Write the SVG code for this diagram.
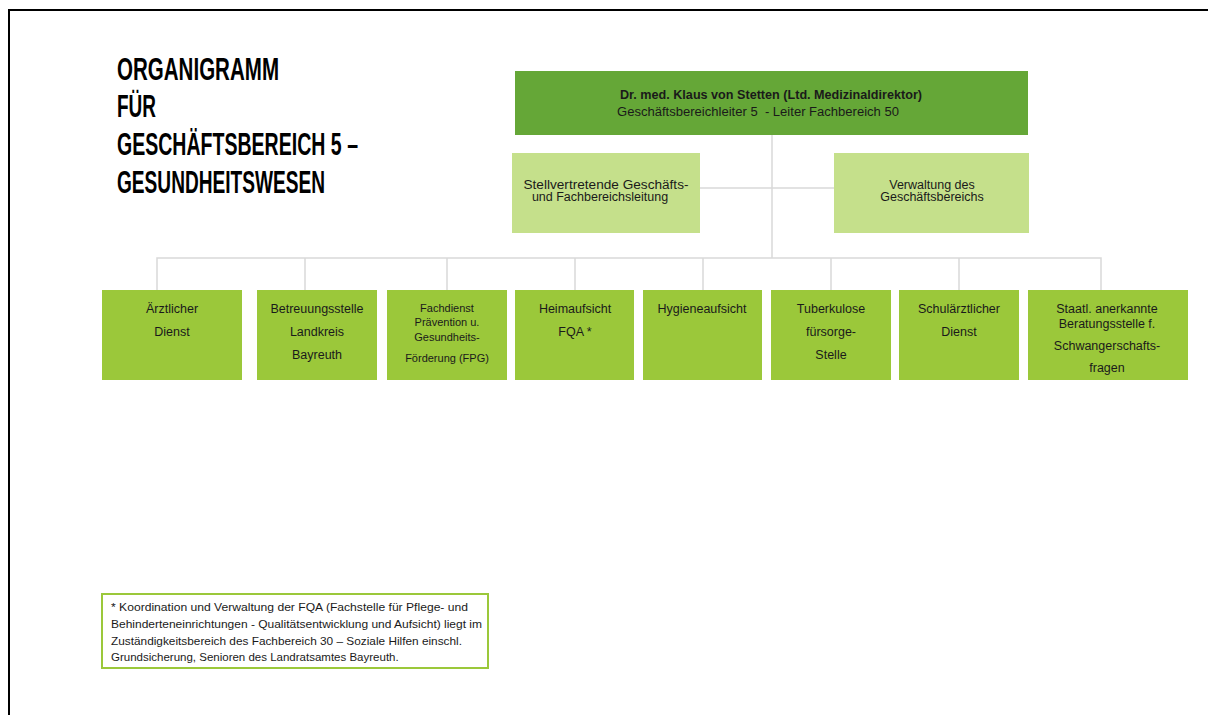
<svg xmlns="http://www.w3.org/2000/svg" width="1208" height="715" viewBox="0 0 1208 715">
<style>
.frame{fill:none;stroke:#000;stroke-width:2}
.title{font-family:"Liberation Sans",Arial,sans-serif;font-size:31px;font-weight:bold;fill:#000}
.lead{fill:#65a737}
.staff{fill:#c5e08b}
.unit{fill:#9bc83a}
.t{font-family:"Liberation Sans",Arial,sans-serif;font-size:12.5px;fill:#1a1a1a;text-anchor:middle}
.s{font-size:11px}
.con{fill:none;stroke:#d9d9d9;stroke-width:1.5}
.note{fill:#fff;stroke:#9bc83a;stroke-width:2}
.nt{font-family:"Liberation Sans",Arial,sans-serif;font-size:11.5px;fill:#1a1a1a}
</style>
<rect width="1208" height="715" fill="#fff"/>
<path class="frame" d="M9,716 V10 H1209"/>
<g id="title">
<text class="title" x="117" y="80" textLength="162" lengthAdjust="spacingAndGlyphs">ORGANIGRAMM</text>
<text class="title" x="117" y="117" textLength="39" lengthAdjust="spacingAndGlyphs">FÜR</text>
<text class="title" x="117" y="155" textLength="241" lengthAdjust="spacingAndGlyphs">GESCHÄFTSBEREICH 5 –</text>
<text class="title" x="117" y="193" textLength="208" lengthAdjust="spacingAndGlyphs">GESUNDHEITSWESEN</text>
</g>
<g id="connectors">
<path class="con" d="M772,135 V258"/>
<path class="con" d="M700,188 H834"/>
<path class="con" d="M157,290 V258 H1101 V290"/>
<path class="con" d="M305,258 V290 M447,258 V290 M575,258 V290 M703,258 V290 M831,258 V290 M959,258 V290"/>
</g>
<g id="leiter">
<rect class="lead" x="515" y="71" width="513" height="64"/>
<text class="t" x="771" y="99" font-weight="bold" font-size="12.5" textLength="302" lengthAdjust="spacingAndGlyphs">Dr. med. Klaus von Stetten (Ltd. Medizinaldirektor)</text>
<text class="t" x="758" y="116" font-size="12.5" textLength="282" lengthAdjust="spacingAndGlyphs" xml:space="preserve">Geschäftsbereichleiter 5  - Leiter Fachbereich 50</text>
</g>
<g id="stellvertretung">
<rect class="staff" x="512" y="153" width="188" height="80"/>
<text class="t" x="606" y="189" font-size="12" textLength="165" lengthAdjust="spacingAndGlyphs">Stellvertretende Geschäfts-</text>
<text class="t" x="600" y="201" font-size="12">und Fachbereichsleitung</text>
</g>
<g id="verwaltung">
<rect class="staff" x="834" y="153" width="195" height="80"/>
<text class="t" x="932" y="189" font-size="12">Verwaltung des</text>
<text class="t" x="932" y="201" font-size="12">Geschäftsbereichs</text>
</g>
<g id="aerztlicher-dienst">
<rect class="unit" x="102" y="290" width="140" height="90"/>
<text class="t" x="172" y="313">Ärztlicher</text>
<text class="t" x="172" y="336">Dienst</text>
</g>
<g id="betreuungsstelle">
<rect class="unit" x="257" y="290" width="120" height="90"/>
<text class="t" x="317" y="313">Betreuungsstelle</text>
<text class="t" x="317" y="336">Landkreis</text>
<text class="t" x="317" y="359">Bayreuth</text>
</g>
<g id="fachdienst-fpg">
<rect class="unit" x="387" y="290" width="120" height="90"/>
<text class="t s" x="447" y="311.5">Fachdienst</text>
<text class="t s" x="447" y="326">Prävention u.</text>
<text class="t s" x="447" y="341">Gesundheits-</text>
<text class="t s" x="447" y="362">Förderung (FPG)</text>
</g>
<g id="heimaufsicht">
<rect class="unit" x="515" y="290" width="119" height="90"/>
<text class="t" x="575" y="313">Heimaufsicht</text>
<text class="t" x="575" y="336">FQA *</text>
</g>
<g id="hygieneaufsicht">
<rect class="unit" x="643" y="290" width="119" height="90"/>
<text class="t" x="702" y="313">Hygieneaufsicht</text>
</g>
<g id="tuberkulose">
<rect class="unit" x="771" y="290" width="120" height="90"/>
<text class="t" x="831" y="313">Tuberkulose</text>
<text class="t" x="831" y="336">fürsorge-</text>
<text class="t" x="831" y="359">Stelle</text>
</g>
<g id="schulaerztlicher-dienst">
<rect class="unit" x="899" y="290" width="120" height="90"/>
<text class="t" x="959" y="313">Schulärztlicher</text>
<text class="t" x="959" y="336">Dienst</text>
</g>
<g id="beratungsstelle">
<rect class="unit" x="1028" y="290" width="160" height="90"/>
<text class="t" x="1107" y="313" font-size="11.5">Staatl. anerkannte</text>
<text class="t" x="1107" y="328" font-size="11.5">Beratungsstelle f.</text>
<text class="t" x="1107" y="350" font-size="11.5">Schwangerschafts-</text>
<text class="t" x="1107" y="371.5" font-size="11.5">fragen</text>
</g>
<g id="fussnote">
<rect class="note" x="102" y="594" width="386" height="74"/>
<text class="nt" x="111" y="611" textLength="357" lengthAdjust="spacingAndGlyphs">* Koordination und Verwaltung der FQA (Fachstelle für Pflege- und</text>
<text class="nt" x="111" y="628" textLength="371" lengthAdjust="spacingAndGlyphs">Behinderteneinrichtungen - Qualitätsentwicklung und Aufsicht) liegt im</text>
<text class="nt" x="111" y="645" textLength="351" lengthAdjust="spacingAndGlyphs">Zuständigkeitsbereich des Fachbereich 30 – Soziale Hilfen einschl.</text>
<text class="nt" x="111" y="661">Grundsicherung, Senioren des Landratsamtes Bayreuth.</text>
</g>
</svg>
